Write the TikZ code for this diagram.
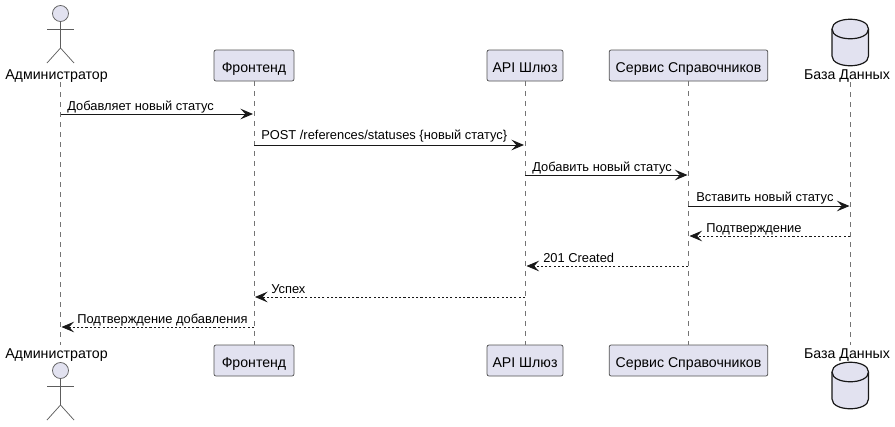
\documentclass[tikz,border=0pt]{standalone}
\usepackage{fontspec}
\setmainfont{Liberation Sans}
\usetikzlibrary{arrows.meta}

\definecolor{partfill}{HTML}{E2E2F0}
\definecolor{partline}{HTML}{181818}

\tikzset{
    partbox/.style={draw=partline!75, line width=0.55pt, fill=partfill, rounded corners=1.5pt, inner sep=0pt, minimum height=23.25pt, text height=9.8pt, text depth=0pt, font=\fontsize{10.6}{12}\selectfont, text=black},
    partname/.style={inner sep=0pt, font=\fontsize{10.65}{12}\selectfont, text=black},
    lifeline/.style={draw=partline!60, line width=0.5pt, dash pattern=on 3.75pt off 3.75pt},
    stickman/.style={draw=partline!70, line width=0.55pt},
    msgtext/.style={inner sep=0pt, anchor=base west, font=\fontsize{9.66}{11}\selectfont, text=black},
    msgcall/.style={draw=partline, line width=0.7pt, -{Stealth[length=9.5pt,width=8pt,inset=3.8pt]}},
    msgback/.style={draw=partline, line width=0.55pt, dash pattern=on 1.6pt off 1.6pt, -{Stealth[length=9.5pt,width=8pt,inset=3.8pt]}},
    dbshape/.style={draw=partline, line width=0.9pt, fill=partfill}
}

\begin{document}
\begin{tikzpicture}[x=0.75pt, y=-0.75pt]
    \useasboundingbox (0,0) rectangle (895,426);

    % Top and bottom participants
    \node[partname] (adminTop) at (56.5,76.5) {Администратор};
    \node[partbox, minimum width=60pt] (frontTop) at (254,65.5) {Фронтенд};
    \node[partbox, minimum width=57pt] (apiTop) at (525,65.5) {API Шлюз};
    \node[partbox, minimum width=119pt] (refTop) at (688.5,65.5) {Сервис Справочников};
    \node[partname] (dbTop) at (847,76.5) {База Данных};

    \node[partname] (adminBot) at (56.5,355.5) {Администратор};
    \node[partbox, minimum width=60pt] (frontBot) at (254,360.5) {Фронтенд};
    \node[partbox, minimum width=57pt] (apiBot) at (525,360.5) {API Шлюз};
    \node[partbox, minimum width=119pt] (refBot) at (688.5,360.5) {Сервис Справочников};
    \node[partname] (dbBot) at (847,355.5) {База Данных};

    % Lifelines
    \coordinate (adminA) at (60.5,82);
    \coordinate (adminB) at (60.5,345);
    \coordinate (dbA) at (850.5,82);
    \coordinate (dbB) at (850.5,345);
    \draw[lifeline] (adminA) -- (adminB);
    \draw[lifeline] (frontTop.south) -- (frontBot.north);
    \draw[lifeline] (apiTop.south) -- (apiBot.north);
    \draw[lifeline] (refTop.south) -- (refBot.north);
    \draw[lifeline] (dbA) -- (dbB);

    % Actor figures
    \foreach \ytop in {5,362} {
        \draw[stickman, fill=partfill] (60.5,\ytop+8.5) circle (8);
        \draw[stickman] (60.5,\ytop+16.5) -- (60.5,\ytop+43) -- (47,\ytop+58);
        \draw[stickman] (60.5,\ytop+43) -- (74,\ytop+58);
        \draw[stickman] (47,\ytop+24) -- (74,\ytop+24);
    }

    % Database figures
    \foreach \ytop in {19,362} {
        \draw[dbshape] (832,\ytop+10) .. controls (832,\ytop-3) and (868.5,\ytop-3) .. (868.5,\ytop+10)
            -- (868.5,\ytop+37) .. controls (868.5,\ytop+50) and (832,\ytop+50) .. (832,\ytop+37) -- cycle;
        \draw[dbshape, fill=none] (832,\ytop+10) .. controls (832,\ytop+23) and (868.5,\ytop+23) .. (868.5,\ytop+10);
    }

    % Message end points
    \coordinate (a1) at (60.5,114);
    \coordinate (f1) at (253,114);
    \coordinate (f2) at (254,145);
    \coordinate (p2) at (524,145);
    \coordinate (p3) at (525,175);
    \coordinate (r3) at (687.5,175);
    \coordinate (r4) at (688,206);
    \coordinate (d4) at (849.5,206);
    \coordinate (d5) at (850,236);
    \coordinate (r5) at (689.5,236);
    \coordinate (r6) at (688,266);
    \coordinate (p6) at (526.5,266);
    \coordinate (p7) at (525,297);
    \coordinate (f7) at (255,297);
    \coordinate (f8) at (254,327);
    \coordinate (a8) at (61.5,327);

    % Messages
    \draw[msgcall] (a1) -- (f1);
    \draw[msgcall] (f2) -- (p2);
    \draw[msgcall] (p3) -- (r3);
    \draw[msgcall] (r4) -- (d4);
    \draw[msgback] (d5) -- (r5);
    \draw[msgback] (r6) -- (p6);
    \draw[msgback] (p7) -- (f7);
    \draw[msgback] (f8) -- (a8);

    % Message labels
    \node[msgtext] (m1) at (67,110) {Добавляет новый статус};
    \node[msgtext] (m2) at (261,139.5) {POST /references/statuses \{новый статус\}};
    \node[msgtext] (m3) at (532,171) {Добавить новый статус};
    \node[msgtext] (m4) at (696,201) {Вставить новый статус};
    \node[msgtext] (m5) at (706,232) {Подтверждение};
    \node[msgtext] (m6) at (543,262) {201 Created};
    \node[msgtext] (m7) at (271,293) {Успех};
    \node[msgtext] (m8) at (77,323) {Подтверждение добавления};
\end{tikzpicture}
\end{document}
